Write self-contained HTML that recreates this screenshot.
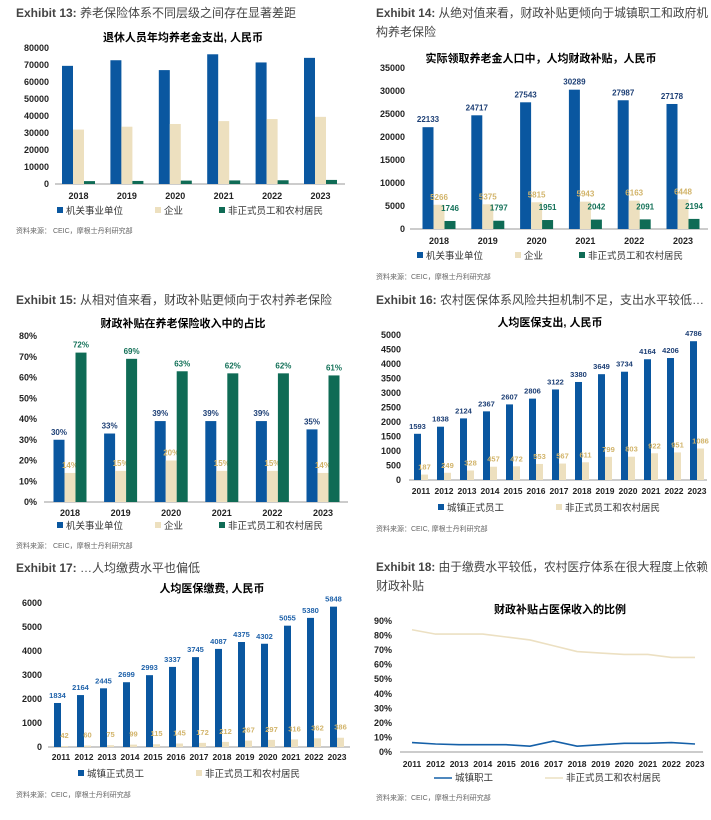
<!DOCTYPE html>
<html><head><meta charset="utf-8"><style>
body{margin:0;background:#fff;width:711px;height:815px;overflow:hidden}
svg text{font-family:"Liberation Sans","Noto Sans CJK SC",sans-serif}
</style></head><body>
<svg id="s" width="711" height="815" xmlns="http://www.w3.org/2000/svg">
<g font-size="12" fill="#444">
<text x="16" y="17"><tspan font-weight="bold">Exhibit 13:</tspan> 养老保险体系不同层级之间存在显著差距</text>
<text x="376" y="17" textLength="332" lengthAdjust="spacingAndGlyphs"><tspan font-weight="bold">Exhibit 14:</tspan> 从绝对值来看，财政补贴更倾向于城镇职工和政府机</text>
<text x="376" y="36">构养老保险</text>
<text x="16" y="304"><tspan font-weight="bold">Exhibit 15:</tspan> 从相对值来看，财政补贴更倾向于农村养老保险</text>
<text x="376" y="304"><tspan font-weight="bold">Exhibit 16:</tspan> 农村医保体系风险共担机制不足，支出水平较低…</text>
<text x="16" y="572"><tspan font-weight="bold">Exhibit 17:</tspan> …人均缴费水平也偏低</text>
<text x="376" y="571" textLength="332" lengthAdjust="spacingAndGlyphs"><tspan font-weight="bold">Exhibit 18:</tspan> 由于缴费水平较低，农村医疗体系在很大程度上依赖</text>
<text x="376" y="590">财政补贴</text>
</g>
<g font-size="11" font-weight="bold" fill="#000" text-anchor="middle">
<text x="183" y="41">退休人员年均养老金支出, 人民币</text>
<text x="541" y="62">实际领取养老金人口中，人均财政补贴，人民币</text>
<text x="183" y="327">财政补贴在养老保险收入中的占比</text>
<text x="550" y="326">人均医保支出, 人民币</text>
<text x="212" y="592">人均医保缴费, 人民币</text>
<text x="560" y="613">财政补贴占医保收入的比例</text>
</g>
<g font-size="7" fill="#666">
<text x="16" y="233">资料来源： CEIC，摩根士丹利研究部</text>
<text x="376" y="279">资料来源：CEIC，摩根士丹利研究部</text>
<text x="16" y="548">资料来源： CEIC，摩根士丹利研究部</text>
<text x="376" y="531">资料来源：CEIC, 摩根士丹利研究部</text>
<text x="16" y="797">资料来源：CEIC，摩根士丹利研究部</text>
<text x="376" y="800">资料来源：CEIC，摩根士丹利研究部</text>
</g>
<g id="c"></g>
</svg>
<script>
var B="#0a57a0",Y="#ede0bf",G="#0f6b55",LB="#1d3f75",LY="#d2b46a",LG="#137158",LB2="#1f62aa";
var out="";
function t(x,y,s,o){o=o||{};out+='<text x="'+x+'" y="'+y+'" font-size="'+(o.fs||9)+'" font-weight="'+(o.fw||"bold")+'" fill="'+(o.c||"#222")+'" text-anchor="'+(o.a||"middle")+'">'+s+'</text>';}
function r(x,y,w,h,c){out+='<rect x="'+x+'" y="'+y+'" width="'+w+'" height="'+h+'" fill="'+c+'"/>';}
function chart(c){
 var n=c.cats.length,sp=(c.last-c.first)/(n-1);
 for(var i=0;i<=c.ticks;i++){var v=c.max*i/c.ticks,y=c.y0-(c.y0-c.ytop)*i/c.ticks;t(c.lx,y+3,c.fmt?c.fmt(v):v,{a:"end"});}
 out+='<line x1="'+c.ax0+'" x2="'+c.ax1+'" y1="'+c.y0+'" y2="'+c.y0+'" stroke="#999" stroke-width="1"/>';
 for(var k=0;k<n;k++){var cx=c.first+k*sp;t(cx,c.yl,c.cats[k],{fs:c.cfs||9});
  var m=c.series.length,x0=cx-m*c.w/2;
  if(c.line)continue;
  c.series.forEach(function(s,j){var v=s.d[k],h=(c.y0-c.ytop)*v/c.max,x=x0+j*c.w;r(x,c.y0-h,c.w,h,s.c);
   if(s.lc)t(x+c.w/2+(s.dx||0),c.y0-h-(s.off||5),s.lab?s.lab(v):v,{fs:c.dfs||8,c:s.lc});});}
 if(c.line){c.series.forEach(function(s){var p=s.d.map(function(v,k){return (c.first+k*sp)+","+(c.y0-(c.y0-c.ytop)*v/c.max)}).join(" ");out+='<polyline points="'+p+'" fill="none" stroke="'+s.c+'" stroke-width="1.6"/>';});}
 c.leg.forEach(function(l){if(c.line)out+='<line x1="'+l[0]+'" x2="'+(l[0]+18)+'" y1="'+(c.ly-3)+'" y2="'+(c.ly-3)+'" stroke="'+l[2]+'" stroke-width="1.6"/>';else r(l[0],c.ly-7,6,6,l[2]);t(l[0]+(c.line?21:9),c.ly,l[1],{a:"start",fw:"normal",fs:9.5,c:"#333"});});
}
var y6=["2018","2019","2020","2021","2022","2023"],y13=[];for(var i=2011;i<=2023;i++)y13.push(i);
chart({cats:y6,first:78.5,last:320.5,w:11,y0:184,ytop:48,max:80000,ticks:8,lx:49,ax0:55,ax1:345,yl:199,
 series:[{d:[69500,72800,67000,76300,71500,74200],c:B},{d:[32000,33700,35300,37000,38200,39500],c:Y},{d:[1700,1800,2000,2100,2200,2400],c:G}],
 leg:[[57,"机关事业单位",B],[155,"企业",Y],[219,"非正式员工和农村居民",G]],ly:214});
chart({cats:y6,first:439,last:683,w:11,y0:229,ytop:68,max:35000,ticks:7,lx:405,ax0:410,ax1:708,yl:244,
 series:[{d:[22133,24717,27543,30289,27987,27178],c:B,lc:LB},{d:[5266,5375,5815,5943,6163,6448],c:Y,lc:LY},{d:[1746,1797,1951,2042,2091,2194],c:G,lc:LG,off:10}],
 leg:[[417,"机关事业单位",B],[515,"企业",Y],[579,"非正式员工和农村居民",G]],ly:259});
var pct=function(v){return v+"%"};
chart({cats:y6,first:70,last:323,w:11,y0:502,ytop:336,max:80,ticks:8,lx:37,ax0:44,ax1:348,yl:516,fmt:pct,
 series:[{d:[30,33,39,39,39,35],c:B,lc:LB,lab:pct},{d:[14,15,20,15,15,14],c:Y,lc:LY,lab:pct},{d:[72,69,63,62,62,61],c:G,lc:LG,lab:pct}],
 leg:[[57,"机关事业单位",B],[155,"企业",Y],[219,"非正式员工和农村居民",G]],ly:529});
chart({cats:y13,first:421,last:697,w:7,y0:480,ytop:335,max:5000,ticks:10,lx:401,ax0:409,ax1:707,yl:494,cfs:8.5,dfs:7.5,
 series:[{d:[1593,1838,2124,2367,2607,2806,3122,3380,3649,3734,4164,4206,4786],c:B,lc:LB},{d:[187,249,328,457,472,553,567,611,799,803,922,951,1086],c:Y,lc:LY}],
 leg:[[438,"城镇正式员工",B],[556,"非正式员工和农村居民",Y]],ly:511});
chart({cats:y13,first:61,last:337,w:7,y0:747,ytop:603,max:6000,ticks:6,lx:42,ax0:48,ax1:350,yl:760,cfs:8.5,dfs:7.5,
 series:[{d:[1834,2164,2445,2699,2993,3337,3745,4087,4375,4302,5055,5380,5848],c:B,lc:LB2},{d:[42,60,75,99,115,145,172,212,267,297,316,362,386],c:Y,lc:LY,off:8}],
 leg:[[78,"城镇正式员工",B],[196,"非正式员工和农村居民",Y]],ly:777});
chart({line:1,cats:y13,first:412,last:695,w:7,y0:752,ytop:621,max:90,ticks:9,lx:392,ax0:400,ax1:703,yl:767,cfs:8.5,fmt:pct,
 series:[{d:[84,81,81,81,79,77,73,69,68,67,67,65,65],c:"#ece0c2"},{d:[6.5,5.5,5,5,5,4,7.5,4,5,6,6,6.5,5.5],c:"#1560a8"}],
 leg:[[434,"城镇职工","#1560a8"],[545,"非正式员工和农村居民","#ece0c2"]],ly:781});
document.getElementById("c").innerHTML=out;
</script>
</body></html>
